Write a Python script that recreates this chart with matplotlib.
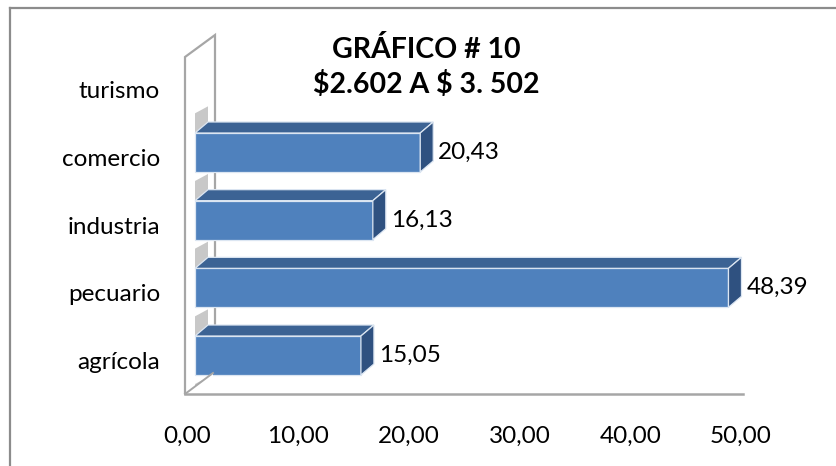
import numpy as np
import matplotlib
matplotlib.use("Agg")
import matplotlib.pyplot as plt
from matplotlib.patches import Polygon
from matplotlib.lines import Line2D

plt.rcParams['font.family'] = ['Lato', 'DejaVu Sans']

# data (turismo has no bar)
categories = ["agrícola", "pecuario", "industria", "comercio", "turismo"]
values = [15.05, 48.39, 16.13, 20.43, np.nan]
xticks = [0, 10, 20, 30, 40, 50]
title_lines = ["GRÁFICO # 10", "\\$2.602 A \\$ 3. 502"]

W, H = 836, 466
fig = plt.figure(figsize=(W / 100, H / 100), dpi=100)

# axes placed so that 0..50 spans the floor line
ax_left, ax_right, ax_top, ax_bot = 187, 741, 35, 394
ax = fig.add_axes([ax_left / W, 1 - ax_bot / H, (ax_right - ax_left) / W, (ax_bot - ax_top) / H])
XP = 50 / (ax_right - ax_left)   # data units per pixel (x)
YP = 1 / 67.67                   # data units per pixel (y)
y0_px = 355.5                    # pixel row of the first category
ax.set_xlim(0, 50)
ax.set_ylim((y0_px - ax_bot) * YP, (y0_px - ax_top) * YP)
ax.axis("off")


def px(xp, yp):
    return ((xp - ax_left) * XP, (y0_px - yp) * YP)


wall_col = "#a6a6a6"
# left wall and floor edge
wall = [px(185, 394), px(185, 57), px(215, 35), px(215, 372)]
ax.add_patch(Polygon(wall, closed=False, fill=False, edgecolor=wall_col, lw=1.6, clip_on=False, zorder=1))
ax.add_line(Line2D(*zip(px(185, 394), px(213, 373)), color=wall_col, lw=1.4, clip_on=False, zorder=6))
ax.add_line(Line2D(*zip(px(185, 394), px(743, 394)), color=wall_col, lw=1.8, clip_on=False, zorder=6))

# bar geometry (3D look)
bar_scale = 0.995
x_start = 8 * XP
bh = 39 * YP
dx, dy = 13 * XP, 11 * YP

ypos = np.arange(len(categories))
for i in range(len(categories) - 1, -1, -1):
    y = ypos[i]
    yb = y - bh / 2
    # shadow on the wall below each bar
    sh = [(x_start, yb - 9 * YP), (x_start + dx, yb - 2 * YP),
          (x_start + dx, yb - 28 * YP), (x_start, yb - 35 * YP)]
    ax.add_patch(Polygon(sh, facecolor="#c8c8c8", edgecolor="none", clip_on=False, zorder=2 + (4 - i) * 0.1))
    v = values[i]
    if np.isnan(v):
        continue
    x1 = x_start + v * bar_scale
    yt = y + bh / 2
    z = 3 + (4 - i) * 0.1
    ax.barh(y, v * bar_scale, left=x_start, height=bh, color="#4f81bd",
            edgecolor="#dce6f2", lw=0.9, zorder=z, clip_on=False)
    top = [(x_start, yt), (x1, yt), (x1 + dx, yt + dy), (x_start + dx, yt + dy)]
    ax.add_patch(Polygon(top, facecolor="#3c6394", edgecolor="#dce6f2", lw=0.9, zorder=z, clip_on=False))
    side = [(x1, yb), (x1, yt), (x1 + dx, yt + dy), (x1 + dx, yb + dy)]
    ax.add_patch(Polygon(side, facecolor="#2f5180", edgecolor="#dce6f2", lw=0.9, zorder=z, clip_on=False))
    ax.text(x1 + dx + 5 * XP, y, f"{v:.2f}".replace(".", ","), ha="left", va="center",
            fontsize=17.5, color="black", zorder=10)

# white over the floor corner to hide shadow overflow
ax.add_patch(Polygon([px(185, 394), px(213, 373), px(213, 420), px(185, 420)],
                     facecolor="white", edgecolor="none", clip_on=False, zorder=5))

# category labels
for i, c in enumerate(categories):
    ax.text(*px(160, y0_px + 7 - i * 67.67), c, ha="right", va="center", fontsize=17.5, zorder=10)

# x tick labels
for t in xticks:
    ax.text(t, px(0, 436)[1], f"{t:.2f}".replace(".", ","), ha="center", va="center",
            fontsize=17.5, zorder=10)

fig.text(426 / W, 1 - 50 / H, title_lines[0], ha="center", va="center", fontsize=20.5,
         fontweight="bold")
fig.text(426 / W, 1 - 84 / H, title_lines[1], ha="center", va="center", fontsize=20.5,
         fontweight="bold")

# chart area border
fig.add_artist(Line2D([10 / W, 10 / W], [0, 1 - 8 / H], color="#8c8c8c", lw=1.6))
fig.add_artist(Line2D([10 / W, 1], [1 - 8 / H, 1 - 8 / H], color="#8c8c8c", lw=1.6))

fig.savefig("out.png", dpi=100)
